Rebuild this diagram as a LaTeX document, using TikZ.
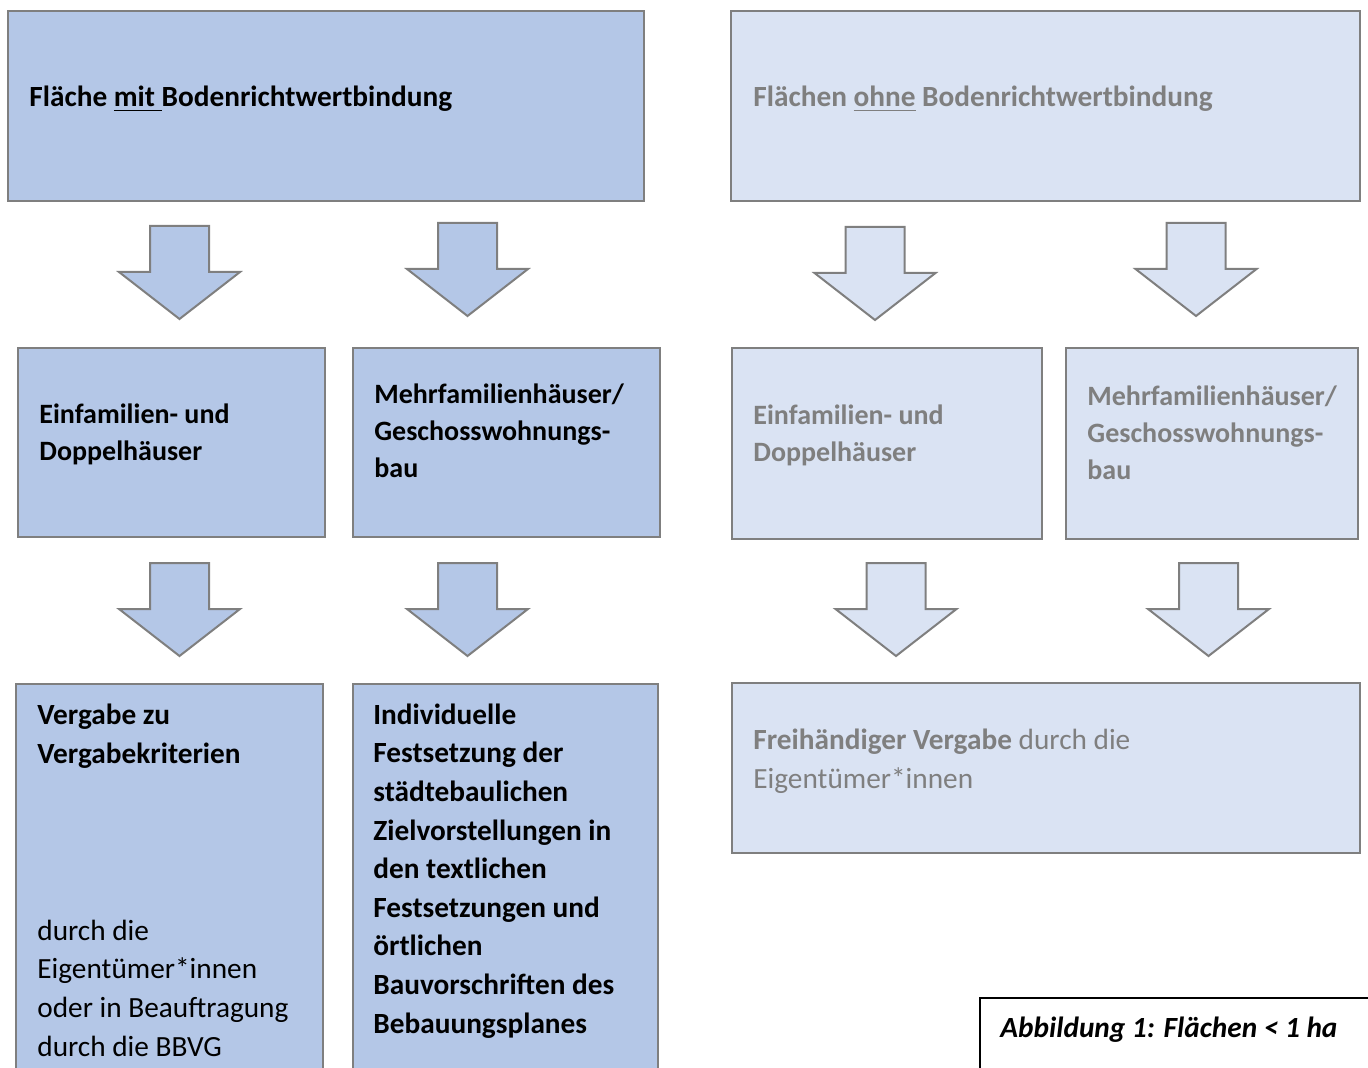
\documentclass[tikz,border=0pt]{standalone}
\usepackage{fontspec}
\setmainfont{Carlito}
\definecolor{boxdark}{HTML}{B4C7E7}
\definecolor{boxlight}{HTML}{DAE3F3}
\definecolor{rim}{HTML}{7F7F7F}
\definecolor{greyink}{HTML}{7F7F7F}
\tikzset{
  box/.style={draw=rim, line width=1pt, anchor=north west, inner sep=0pt, outer sep=0pt},
  darkbox/.style={box, fill=boxdark},
  lightbox/.style={box, fill=boxlight},
  boxtext/.style={anchor=base west, inner sep=0pt, align=left,
    font=\fontsize{14.65}{19.3}\selectfont},
  headtext/.style={boxtext, font=\fontsize{14.65}{19.3}\selectfont\bfseries},
  smallhead/.style={boxtext, font=\fontsize{14}{18.6}\selectfont\bfseries},
  greytext/.style={boxtext, text=greyink},
  greyhead/.style={headtext, text=greyink},
  greysmall/.style={smallhead, text=greyink},
  pics/blockarrow/.style={code={
    \draw[draw=rim, line width=1pt, fill=#1]
      (-29.5,0) -- (29.5,0) -- (29.5,46) -- (60.5,46) -- (0,93)
      -- (-60.5,46) -- (-29.5,46) -- cycle;
  }}
}
\begin{document}
\begin{tikzpicture}[x=0.5pt, y=-0.5pt]
  \useasboundingbox (0,0) rectangle (1368,1068);
  \clip (0,0) rectangle (1368,1068);
  % boxes
  \node[darkbox, minimum width=318pt, minimum height=95pt] (mit) at (8,11) {};
  \node[lightbox, minimum width=314.5pt, minimum height=95pt] (ohne) at (731,11) {};
  \node[darkbox, minimum width=153.5pt, minimum height=94.5pt] (efhmit) at (18,348) {};
  \node[darkbox, minimum width=153.5pt, minimum height=94.5pt] (mfhmit) at (353,348) {};
  \node[lightbox, minimum width=155pt, minimum height=95.5pt] (efhohne) at (732,348) {};
  \node[lightbox, minimum width=146pt, minimum height=95.5pt] (mfhohne) at (1066,348) {};
  \node[darkbox, minimum width=153.5pt, minimum height=198pt] (vergabe) at (16,684) {};
  \node[darkbox, minimum width=152.5pt, minimum height=198pt] (festsetz) at (353,684) {};
  \node[lightbox, minimum width=314pt, minimum height=85pt] (frei) at (732,683) {};
  \node[box, draw=black, line width=0.75pt, fill=white, minimum width=200pt,
    minimum height=40pt] (capbox) at (980,998) {};
  % arrows
  \pic at (179.5,226) {blockarrow=boxdark};
  \pic at (467.5,223) {blockarrow=boxdark};
  \pic at (875,227) {blockarrow=boxlight};
  \pic at (1196,223) {blockarrow=boxlight};
  \pic at (179.5,563) {blockarrow=boxdark};
  \pic at (467.5,563) {blockarrow=boxdark};
  \pic at (896,563) {blockarrow=boxlight};
  \pic at (1208.5,563) {blockarrow=boxlight};
  % texts (base = baseline of the last line)
  \node[headtext] (tmit) at (29,107) {Fläche \underline{mit }Bodenrichtwertbindung};
  \node[greyhead] (tohne) at (753,107) {Flächen \underline{ohne} Bodenrichtwertbindung};
  \node[smallhead] (tefhmit) at (39,461) {Einfamilien- und\\Doppelhäuser};
  \node[smallhead] (tmfhmit) at (374,478) {Mehrfamilienhäuser/\\Geschosswohnungs-\\bau};
  \node[greysmall] (tefhohne) at (753,462) {Einfamilien- und\\Doppelhäuser};
  \node[greysmall] (tmfhohne) at (1087,480) {Mehrfamilienhäuser/\\Geschosswohnungs-\\bau};
  \node[headtext] (tvergabe) at (37,763) {Vergabe zu\\Vergabekriterien};
  \node[boxtext] (tdurch) at (37,1056)
    {durch die\\Eigentümer*innen\\oder in Beauftragung\\durch die BBVG};
  \node[headtext] (tfestsetz) at (373,1033)
    {Individuelle\\Festsetzung der\\städtebaulichen\\Zielvorstellungen in\\den textlichen\\Festsetzungen und\\örtlichen\\Bauvorschriften des\\Bebauungsplanes};
  \node[greytext] (tfrei) at (753,788) {\textbf{Freihändiger Vergabe} durch die\\Eigentümer*innen};
  \node[headtext, font=\fontsize{14.65}{19.3}\selectfont\bfseries\itshape] (tcap) at (1000,1037)
    {Abbildung 1: Flächen < 1 ha};
\end{tikzpicture}
\end{document}
